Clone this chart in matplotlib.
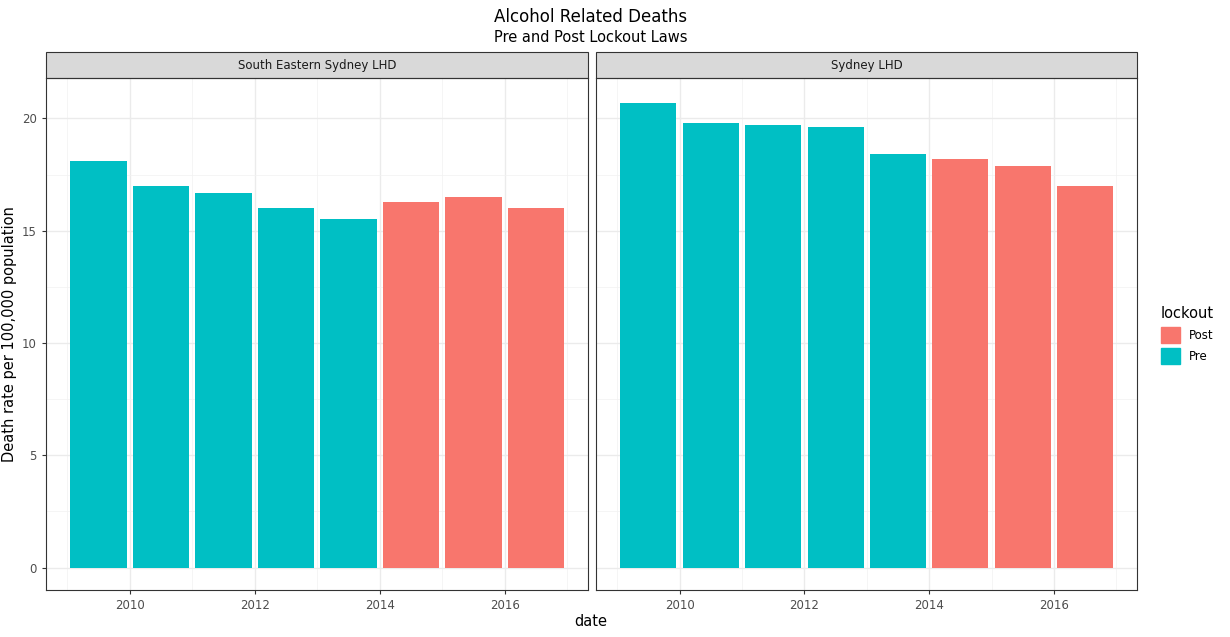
import matplotlib.pyplot as plt
from matplotlib.patches import Patch

years = [2009.5, 2010.5, 2011.5, 2012.5, 2013.5, 2014.5, 2015.5, 2016.5]
lockout = ["Pre", "Pre", "Pre", "Pre", "Pre", "Post", "Post", "Post"]
se_sydney = [18.1, 17.0, 16.7, 16.0, 15.5, 16.3, 16.5, 16.0]
sydney = [20.7, 19.8, 19.7, 19.6, 18.4, 18.2, 17.9, 17.0]
panels = ["South Eastern Sydney LHD", "Sydney LHD"]

colors = {"Post": "#F8766D", "Pre": "#00BFC4"}

fig = plt.figure(figsize=(12.3, 6.37), dpi=100)
W, H = 1230, 637
axes = [fig.add_axes([46 / W, 1 - 590 / H, 542 / W, 512 / H]),
        fig.add_axes([596 / W, 1 - 590 / H, 541 / W, 512 / H])]

for ax, name, vals in zip(axes, panels, [se_sydney, sydney]):
    ax.bar(years, vals, width=0.9, color=[colors[l] for l in lockout], zorder=2)
    ax.set_xlim(2008.66, 2017.33)
    ax.set_ylim(-1.0, 21.8)
    ax.set_xticks([2010, 2012, 2014, 2016])
    ax.set_xticks([2009, 2011, 2013, 2015, 2017], minor=True)
    ax.set_yticks([0, 5, 10, 15, 20])
    ax.set_yticks([2.5, 7.5, 12.5, 17.5], minor=True)
    ax.grid(True, which="major", color="#EBEBEB", linewidth=1.0, zorder=0)
    ax.grid(True, which="minor", color="#F2F2F2", linewidth=0.5, zorder=0)
    ax.tick_params(which="both", length=3, color="#333333", labelsize=8.5, labelcolor="#4D4D4D")
    ax.tick_params(which="minor", length=0)
    for s in ax.spines.values():
        s.set_color("#333333")
        s.set_linewidth(0.8)
    ax.text(0.5, 1.025, name, transform=ax.transAxes, ha="center", va="center", fontsize=8.5,
            color="#1A1A1A",
            bbox=dict(boxstyle="square,pad=0", fc="#D9D9D9", ec="#333333", lw=0.8))
    ax.set_axisbelow(True)

axes[1].set_yticklabels([])
axes[1].tick_params(axis="y", which="both", length=0)
# strip backgrounds
for ax in axes:
    strip = plt.Rectangle((0, 1.0), 1, 26 / 512, transform=ax.transAxes, fc="#D9D9D9",
                          ec="#333333", lw=0.8, clip_on=False, zorder=1)
    ax.add_patch(strip)
for ax, name in zip(axes, panels):
    for t in ax.texts:
        t.set_bbox(None)
        t.set_y(1 + 13 / 512)
        t.set_zorder(3)

axes[0].set_ylabel("Death rate per 100,000 population", fontsize=10.5)
fig.text(591 / W, 1 - 622 / H, "date", ha="center", va="center", fontsize=10.5)
fig.text(591 / W, 1 - 17 / H, "Alcohol Related Deaths", ha="center", va="center", fontsize=12)
fig.text(591 / W, 1 - 38 / H, "Pre and Post Lockout Laws", ha="center", va="center", fontsize=10.5)

handles = [Patch(color=colors["Post"], label="Post"), Patch(color=colors["Pre"], label="Pre")]
fig.legend(handles=handles, title="lockout", loc="center left", bbox_to_anchor=(1150 / W, 1 - 335 / H),
           frameon=False, fontsize=8.5, title_fontsize=10.5, handlelength=1.6, handleheight=1.6,
           alignment="left")

fig.savefig("out.png", dpi=100)
